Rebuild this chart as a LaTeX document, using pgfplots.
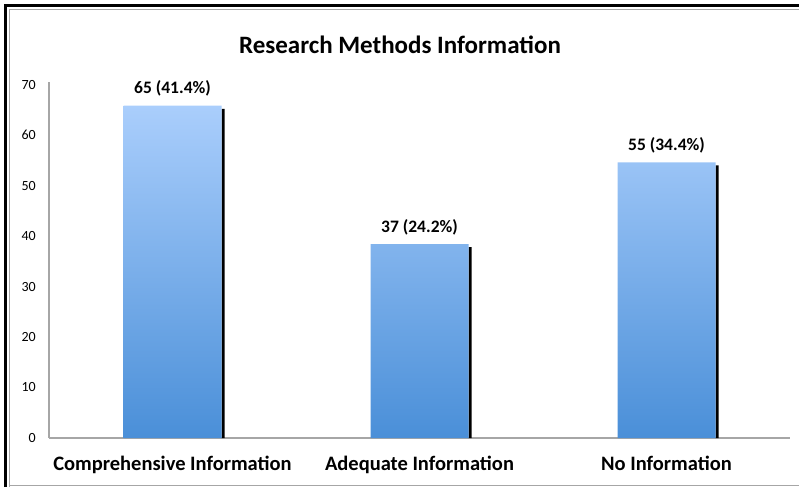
\documentclass[border=0pt]{standalone}
\usepackage{pgfplots}
\pgfplotsset{compat=1.18}
\usepackage{fontspec}
\setmainfont{Carlito}
\definecolor{bartop}{HTML}{AACEFC}
\definecolor{barbot}{HTML}{4A8FD8}
\definecolor{axgray}{HTML}{A6A6A6}
\begin{document}
\begin{tikzpicture}[x=1pt,y=1pt]
\useasboundingbox (0,0) rectangle (799,487);
\begin{axis}[
  at={(49pt,49pt)}, anchor=south west,
  scale only axis, width=741pt, height=356pt,
  xmin=-0.5, xmax=2.5, ymin=0, ymax=70.5,
  axis x line*=bottom, axis y line*=left,
  axis line style={axgray, line width=1.1pt, -},
  major tick length=0pt,
  xtick={0,1,2},
  xticklabels={Comprehensive Information, Adequate Information, No Information},
  xticklabel style={font=\bfseries\fontsize{20.5}{24}\selectfont, anchor=north, inner sep=0pt, yshift=-18pt},
  ytick={0,10,...,70},
  yticklabel style={font=\fontsize{14}{16}\selectfont, anchor=east, inner sep=0pt, xshift=-13pt},
  /pgf/number format/assume math mode=true,
  clip=false,
]
\addplot[ybar, bar width=3pt, bar shift=50.5pt, fill=black, draw=none]
  coordinates {(0,65.2) (1,37.8) (2,54.0)};
\addplot[ybar, bar width=98pt, bar shift=0pt, draw=none,
  shading=axis, top color=bartop, bottom color=barbot,
  point meta=explicit symbolic, nodes near coords,
  every node near coord/.append style={font=\bfseries\fontsize{17.5}{20}\selectfont, anchor=south, inner sep=0pt, yshift=9pt, black}]
  coordinates {(0,65.8) [65 (41.4\%)] (1,38.4) [37 (24.2\%)] (2,54.6) [55 (34.4\%)]};
\end{axis}
\node[font=\bfseries\fontsize{25}{30}\selectfont] at (400,442) {Research Methods Information};
% frame
\draw[black, line width=2.5pt] (5.5,0) -- (5.5,481.5) -- (799,481.5);
\draw[axgray, line width=0.8pt] (9,0) -- (9,478) -- (799,478);
\draw[axgray, line width=1pt] (9,2) -- (799,2);
\end{tikzpicture}
\end{document}
